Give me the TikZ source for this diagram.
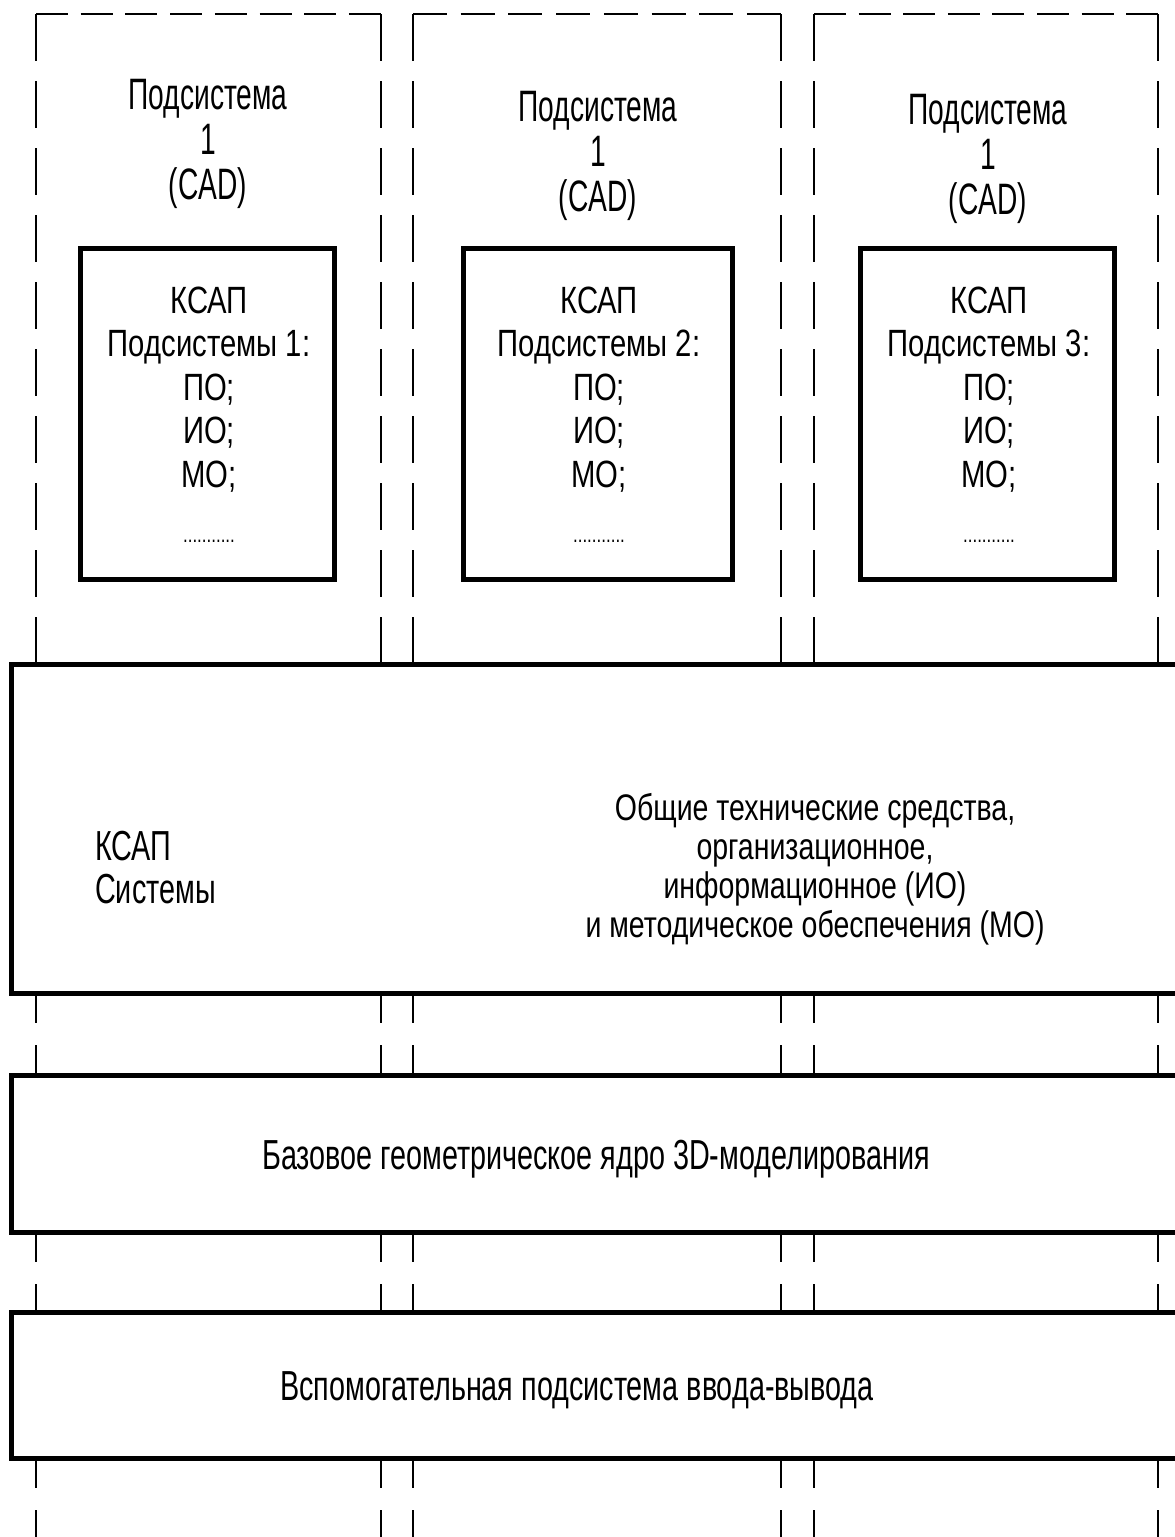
\documentclass[tikz,border=0pt]{standalone}
\usepackage{fontspec}
\setmainfont{Liberation Sans}
\newfontfamily\hdrfont{Liberation Sans}[FakeStretch=0.64]
\newfontfamily\boxfont{Liberation Sans}[FakeStretch=0.77]
\newfontfamily\lowfont{Liberation Sans}[FakeStretch=0.685]
\tikzset{
  colline/.style={line width=1.6pt, black},
  topdash/.style={colline, dash pattern=on 47pt off 20pt},
  middash/.style={colline, dash pattern=on 30pt off 22pt},
  thickbox/.style={draw, line width=5pt, fill=white, inner sep=0pt, outer sep=0pt, rectangle},
  hdrtext/.style={anchor=base, align=center, inner sep=0pt, font=\hdrfont\fontsize{44}{45}\selectfont},
  ksaptext/.style={anchor=base, align=center, inner sep=0pt, font=\boxfont\fontsize{38}{43.5}\selectfont},
  lowtext/.style={anchor=base, align=center, inner sep=0pt, font=\lowfont\fontsize{42}{43}\selectfont}
}
\newcommand{\dotline}{{\fontsize{22}{43.5}\selectfont ...........}}
\begin{document}
\begin{tikzpicture}[x=1pt,y=-1pt]
\useasboundingbox (0,0) rectangle (1175,1537);
\clip (0,0) rectangle (1175,1537);
% top edges of the dashed columns
\draw[colline, dash pattern=on 32pt off 12.7pt] (36,14) -- (381,14);
\draw[colline, dash pattern=on 34pt off 13.7pt] (413,14) -- (781,14);
\draw[colline, dash pattern=on 32pt off 12.6pt] (814,14) -- (1158,14);
% vertical dashed lines
\foreach \xx in {36,381,413,781,814,1158}{
  \draw[topdash] (\xx,14) -- (\xx,664);
  \draw[middash] (\xx,993) -- (\xx,1075);
  \draw[middash] (\xx,1232) -- (\xx,1312);
  \draw[middash] (\xx,1458) -- (\xx,1545);
}
% headers
\node[hdrtext] (h1) at (208,199) {Подсистема\\1\\(CAD)};
\node[hdrtext] (h2) at (598,211) {Подсистема\\1\\(CAD)};
\node[hdrtext] (h3) at (988,214) {Подсистема\\1\\(CAD)};
% KSAP boxes
\node[thickbox, minimum width=254pt, minimum height=331pt] (k1) at (207,413.5) {};
\node[thickbox, minimum width=269pt, minimum height=331pt] (k2) at (597.5,413.5) {};
\node[thickbox, minimum width=254pt, minimum height=331pt] (k3) at (987,413.5) {};
\node[ksaptext] (t1) at (209,542) {КСАП\\Подсистемы 1:\\ПО;\\ИО;\\МО;\\[11.5pt]\dotline};
\node[ksaptext] (t2) at (599,542) {КСАП\\Подсистемы 2:\\ПО;\\ИО;\\МО;\\[11.5pt]\dotline};
\node[ksaptext] (t3) at (989,542) {КСАП\\Подсистемы 3:\\ПО;\\ИО;\\МО;\\[11.5pt]\dotline};
% big boxes
\node[thickbox, anchor=north west, minimum width=1189pt, minimum height=329pt] (sys) at (11,664) {};
\node[thickbox, anchor=north west, minimum width=1189pt, minimum height=157pt] (core) at (11,1075) {};
\node[thickbox, anchor=north west, minimum width=1189pt, minimum height=146pt] (io) at (11,1312) {};
\node[lowtext, anchor=base west, align=left] (sysname) at (95,903) {КСАП\\Системы};
\node[anchor=base, align=center, inner sep=0pt, font=\boxfont\fontsize{37}{39}\selectfont] (common) at (815,937)
  {Общие технические средства,\\организационное,\\информационное (ИО)\\и методическое обеспечения (МО)};
\node[lowtext] (coretext) at (596,1169) {Базовое геометрическое ядро 3D-моделирования};
\node[lowtext] (iotext) at (577,1400) {Вспомогательная подсистема ввода-вывода};
\end{tikzpicture}
\end{document}
